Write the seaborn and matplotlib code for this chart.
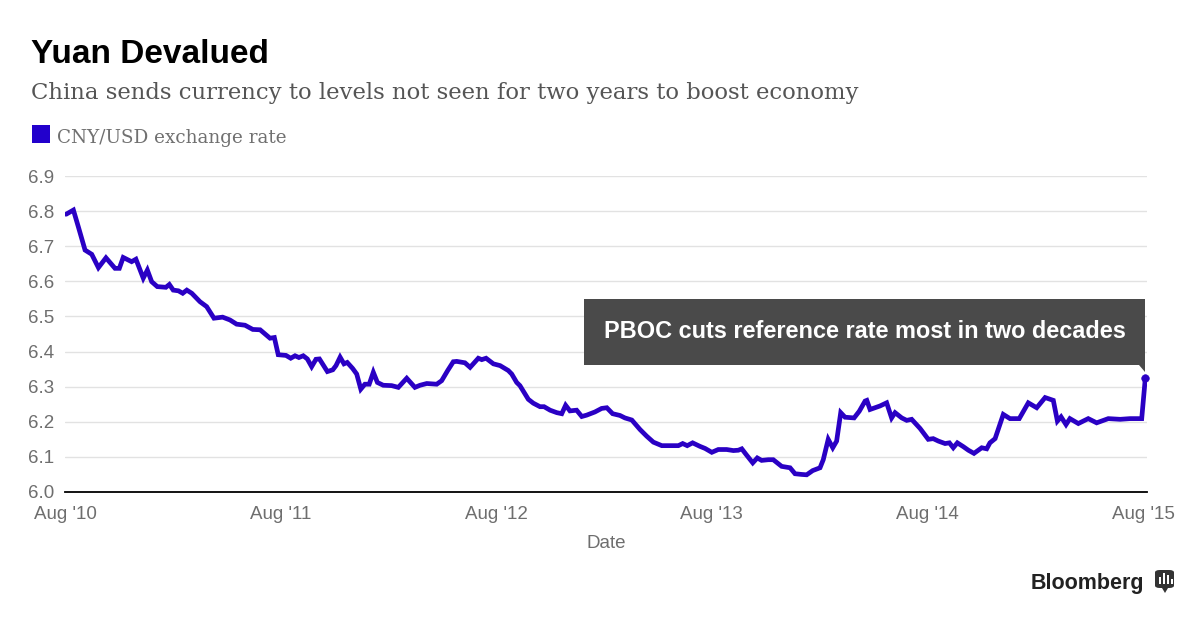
import numpy as np
import pandas as pd
import matplotlib
matplotlib.use("Agg")
import matplotlib.pyplot as plt
import seaborn as sns
from matplotlib.patches import Rectangle, Polygon, FancyBboxPatch

# ---------------- data ----------------
# decimal years (Aug 1 2010 = 2010.581)
years = [
    2010.586, 2010.620, 2010.643, 2010.674, 2010.705, 2010.736, 2010.771, 2010.813,
    2010.833, 2010.851, 2010.890, 2010.910, 2010.944, 2010.963, 2010.983, 2011.009,
    2011.049, 2011.065, 2011.083, 2011.107, 2011.127, 2011.146, 2011.169, 2011.207,
    2011.238, 2011.272, 2011.312, 2011.346, 2011.377, 2011.416, 2011.452, 2011.486,
    2011.532, 2011.552, 2011.570, 2011.606, 2011.628, 2011.648, 2011.666, 2011.686,
    2011.705, 2011.725, 2011.745, 2011.761,
    2011.798, 2011.823, 2011.838, 2011.857, 2011.875, 2011.890, 2011.915, 2011.934,
    2011.953, 2011.972, 2011.992, 2012.011, 2012.030, 2012.057, 2012.096, 2012.127,
    2012.166, 2012.204, 2012.228, 2012.259, 2012.305, 2012.328, 2012.356, 2012.382,
    2012.398, 2012.436, 2012.460, 2012.498, 2012.514, 2012.534, 2012.568, 2012.599,
    2012.637, 2012.653, 2012.676, 2012.691, 2012.730, 2012.753, 2012.784, 2012.803,
    2012.831, 2012.862, 2012.885, 2012.903, 2012.923, 2012.954, 2012.978, 2013.001,
    2013.039, 2013.070,
    2013.094, 2013.121, 2013.155, 2013.178, 2013.210, 2013.248, 2013.279, 2013.310,
    2013.349, 2013.387, 2013.426, 2013.446, 2013.467, 2013.492, 2013.526, 2013.550,
    2013.581, 2013.611, 2013.650, 2013.681, 2013.704, 2013.720, 2013.740, 2013.771,
    2013.792, 2013.812, 2013.843, 2013.866, 2013.905, 2013.944, 2013.967, 2013.998,
    2014.021, 2014.049, 2014.083, 2014.098, 2014.121, 2014.142, 2014.160, 2014.179,
    2014.199, 2014.241, 2014.265, 2014.292, 2014.300,
    2014.315, 2014.338, 2014.361, 2014.392, 2014.415, 2014.431, 2014.462, 2014.485,
    2014.508, 2014.547, 2014.585, 2014.608, 2014.632, 2014.663, 2014.683, 2014.701,
    2014.720, 2014.748, 2014.771, 2014.797, 2014.833, 2014.856, 2014.871, 2014.895,
    2014.933, 2014.964, 2015.007, 2015.049, 2015.088, 2015.127, 2015.165, 2015.184,
    2015.201, 2015.224, 2015.242, 2015.281, 2015.327, 2015.366, 2015.420, 2015.475,
    2015.521, 2015.575, 2015.592,
]
rate = [
    6.791, 6.803, 6.755, 6.689, 6.677, 6.639, 6.667, 6.637,
    6.637, 6.668, 6.656, 6.663, 6.609, 6.632, 6.599, 6.585,
    6.583, 6.591, 6.575, 6.573, 6.566, 6.575, 6.566, 6.542,
    6.528, 6.495, 6.498, 6.490, 6.478, 6.475, 6.463, 6.462,
    6.438, 6.440, 6.391, 6.389, 6.381, 6.388, 6.383, 6.388,
    6.379, 6.357, 6.378, 6.379,
    6.343, 6.348, 6.360, 6.384, 6.365, 6.369, 6.352, 6.336,
    6.293, 6.307, 6.307, 6.341, 6.312, 6.304, 6.303, 6.298,
    6.324, 6.298, 6.304, 6.309, 6.307, 6.317, 6.346, 6.371,
    6.372, 6.368, 6.355, 6.381, 6.377, 6.381, 6.365, 6.360,
    6.346, 6.336, 6.312, 6.303, 6.264, 6.253, 6.243, 6.243,
    6.233, 6.226, 6.223, 6.247, 6.231, 6.233, 6.215, 6.219,
    6.228, 6.238,
    6.240, 6.223, 6.218, 6.211, 6.205, 6.178, 6.159, 6.142,
    6.132, 6.132, 6.132, 6.138, 6.132, 6.140, 6.130, 6.124,
    6.113, 6.121, 6.121, 6.118, 6.119, 6.123, 6.107, 6.083,
    6.097, 6.090, 6.092, 6.092, 6.073, 6.069, 6.052, 6.050,
    6.049, 6.061, 6.069, 6.092, 6.150, 6.126, 6.145, 6.226,
    6.213, 6.211, 6.230, 6.259, 6.261,
    6.235, 6.240, 6.245, 6.254, 6.211, 6.226, 6.211, 6.204,
    6.207, 6.181, 6.150, 6.152, 6.145, 6.138, 6.140, 6.126,
    6.140, 6.129, 6.119, 6.110, 6.126, 6.123, 6.140, 6.152,
    6.221, 6.209, 6.209, 6.254, 6.240, 6.269, 6.261, 6.202,
    6.214, 6.192, 6.209, 6.195, 6.209, 6.197, 6.209, 6.207,
    6.209, 6.209, 6.326,
]
x_tick_pos = [2010.581, 2011.581, 2012.581, 2013.581, 2014.581, 2015.581]
x_tick_labels = ["Aug '10", "Aug '11", "Aug '12", "Aug '13", "Aug '14", "Aug '15"]
y_ticks = [6.0, 6.1, 6.2, 6.3, 6.4, 6.5, 6.6, 6.7, 6.8, 6.9]
series_name = "CNY/USD exchange rate"
title = "Yuan Devalued"
subtitle = "China sends currency to levels not seen for two years to boost economy"
note = "PBOC cuts reference rate most in two decades"

# ---------------- style ----------------
LINE = "#2a00c4"
GRAY = "#6e6e6e"

sns.set_theme(style="white")
plt.rcParams['font.family'] = ['Liberation Sans', 'DejaVu Sans']

W, H = 1200, 619
fig = plt.figure(figsize=(W / 100, H / 100), dpi=100)
fig.patch.set_facecolor("white")

# axes placed to match the reference (pixels: x 65-1147, y 176-492)
ax = fig.add_axes([65 / W, (H - 492) / H, 1082 / W, 316 / H])

df = pd.DataFrame({"Date": years, "rate": rate})
sns.lineplot(data=df, x="Date", y="rate", ax=ax, color=LINE, linewidth=3.4,
             solid_joinstyle="miter", zorder=3)
sns.scatterplot(data=df.tail(1), x="Date", y="rate", ax=ax, color=LINE, s=30,
                edgecolor=LINE, zorder=4, clip_on=False)

ax.set_xlim(x_tick_pos[0], x_tick_pos[0] + 1082 / 215.6)
ax.set_ylim(y_ticks[0], y_ticks[-1])
ax.set_yticks(y_ticks)
ax.set_yticklabels([f"{v:.1f}" for v in y_ticks])
ax.set_xticks(x_tick_pos)
ax.set_xticklabels(x_tick_labels)

ax.yaxis.grid(True, color="#e2e2e2", linewidth=1)
ax.xaxis.grid(False)
for s in ["top", "right", "left"]:
    ax.spines[s].set_visible(False)
ax.spines["bottom"].set_color("black")
ax.spines["bottom"].set_linewidth(1.3)
ax.spines["bottom"].set_zorder(5)

ax.tick_params(axis="x", length=5, width=1, color="black", direction="out",
               pad=5, labelsize=13.5, labelcolor=GRAY)
ax.tick_params(axis="y", length=0, pad=8, labelsize=13.5, labelcolor=GRAY)
ax.set_ylabel("")
ax.set_xlabel("Date", fontsize=13.5, color=GRAY, labelpad=9)

# annotation box (axes fraction coordinates)
x0 = (584 - 65) / 1082
x1 = (1145 - 65) / 1082
y0 = (492 - 365) / 316
y1 = (492 - 299) / 316
ax.add_patch(Rectangle((x0, y0), x1 - x0, y1 - y0, transform=ax.transAxes,
                       facecolor="#4a4a4a", edgecolor="none", zorder=6, clip_on=False))
ax.add_patch(Polygon([[(1139 - 65) / 1082, y0], [x1, y0], [x1, (492 - 372) / 316]],
                     closed=True, transform=ax.transAxes, facecolor="#4a4a4a",
                     edgecolor="none", zorder=6, clip_on=False))
ax.text((x0 + x1) / 2, (492 - 332) / 316, note, transform=ax.transAxes,
        ha="center", va="center", color="white", fontsize=16.9, fontweight="bold",
        zorder=7)

# header
SERIF = ["DejaVu Serif", "Liberation Serif"]
fig.text(31 / W, (H - 63) / H, title, fontsize=24, fontweight="bold",
         color="black", va="baseline", ha="left")
fig.text(31 / W, (H - 99.5) / H, subtitle, fontsize=16.35, color="#555555",
         va="baseline", ha="left", family=SERIF)
fig.patches.append(Rectangle((32 / W, (H - 143) / H), 18 / W, 18 / H,
                             transform=fig.transFigure, facecolor="#2200cc",
                             edgecolor="none"))
fig.text(57 / W, (H - 143.3) / H, series_name, fontsize=13.25, color="#707070",
         va="baseline", ha="left", family=SERIF)

# footer logo
fig.text(1144 / W, (H - 589) / H, "Bloomberg", fontsize=15.5, fontweight="bold",
         color="#222222", va="baseline", ha="right")
fig.patches.append(FancyBboxPatch((1155 / W, (H - 588) / H), 19 / W, 18 / H,
                                  boxstyle="round,pad=0,rounding_size=0.004",
                                  transform=fig.transFigure, facecolor="#333333",
                                  edgecolor="none"))
fig.patches.append(Polygon([[1162 / W, (H - 588) / H], [1168 / W, (H - 588) / H],
                            [1165 / W, (H - 593) / H]], closed=True,
                           transform=fig.transFigure, facecolor="#333333",
                           edgecolor="none"))
for bx, bh in [(1159, 7), (1163, 11), (1167, 9), (1171, 5)]:
    fig.patches.append(Rectangle((bx / W, (H - 584) / H), 1.8 / W, bh / H,
                                 transform=fig.transFigure, facecolor="white",
                                 edgecolor="none"))

fig.savefig("out.png", dpi=100, facecolor="white")
